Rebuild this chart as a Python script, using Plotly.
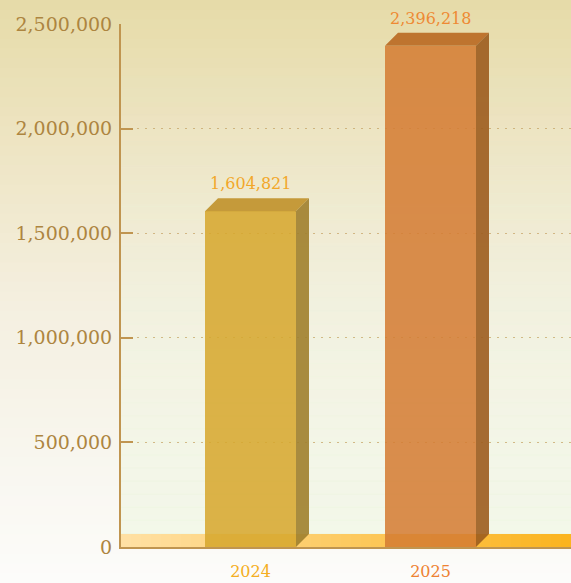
import plotly.graph_objects as go

# ---- data ----
years = ["2024", "2025"]
values = [1604821, 2396218]
ytick_vals = [0, 500000, 1000000, 1500000, 2000000, 2500000]
ytick_text = ["0", "500,000", "1,000,000", "1,500,000", "2,000,000", "2,500,000"]
value_labels = ["1,604,821", "2,396,218"]

# ---- style ----
W, H = 571, 583
ML, MR, MT, MB = 121, 0, 24, 36
PW, PH = W - ML - MR, H - MT - MB
YMAX = 2500000
PX_PER_CAT = 180.0
x_lo = -(250.5 - ML) / PX_PER_CAT
x_hi = x_lo + PW / PX_PER_CAT
bar_w = 91 / PX_PER_CAT
DEPTH_PX = 13
dx = DEPTH_PX / PX_PER_CAT
dy = DEPTH_PX * YMAX / PH

front_cols = ["rgba(214,166,44,0.86)", "rgba(212,124,50,0.86)"]
top_cols = ["rgba(194,150,50,0.95)", "rgba(188,110,40,0.95)"]
side_cols = ["rgba(160,128,44,0.9)", "rgba(156,92,30,0.9)"]
label_cols = ["#F2A72A", "#EE8A34"]
xlab_cols = ["#F4AE22", "#EE8232"]
axis_col = "#C09550"
tick_font_col = "#AD8540"

fig = go.Figure()

xs = list(range(len(years)))
fig.add_trace(go.Bar(x=xs, y=values, width=bar_w, marker=dict(color=front_cols, line=dict(width=0)),
                     hoverinfo="skip", showlegend=False))

for i, v in enumerate(values):
    xl, xr = xs[i] - bar_w / 2, xs[i] + bar_w / 2
    fig.add_trace(go.Scatter(x=[xl, xl + dx, xr + dx, xr, xl], y=[v, v + dy, v + dy, v, v],
                             fill="toself", fillcolor=top_cols[i], mode="lines", line=dict(width=0),
                             hoverinfo="skip", showlegend=False))
    fig.add_trace(go.Scatter(x=[xr, xr + dx, xr + dx, xr, xr], y=[v, v + dy, dy, 0, v],
                             fill="toself", fillcolor=side_cols[i], mode="lines", line=dict(width=0),
                             hoverinfo="skip", showlegend=False))

def lerp(a, b, t):
    return tuple(round(a[k] + (b[k] - a[k]) * t) for k in range(3))

shapes = []
# page background gradient (pixel rows -> paper coords)
stops = [(0, (230, 219, 168)), (150, (238, 229, 196)), (300, (244, 239, 223)),
         (450, (248, 246, 238)), (583, (252, 252, 250))]
N = 60
for i in range(N):
    py0, py1 = i * H / N, (i + 1) * H / N + 1
    pm = (py0 + py1) / 2
    for j in range(len(stops) - 1):
        if stops[j][0] <= pm <= stops[j + 1][0]:
            t = (pm - stops[j][0]) / (stops[j + 1][0] - stops[j][0])
            c = lerp(stops[j][1], stops[j + 1][1], t)
            break
    y0 = (H - MB - py1) / PH
    y1 = (H - MB - py0) / PH
    shapes.append(dict(type="rect", xref="paper", yref="paper", x0=-ML / PW - 0.01, x1=1.01,
                       y0=y0, y1=y1, fillcolor="rgb(%d,%d,%d)" % c, line=dict(width=0), layer="below"))
# plot area green tint
M = 40
for i in range(M):
    t = (i + 0.5) / M
    a = 0.55 * t ** 1.3
    shapes.append(dict(type="rect", xref="paper", yref="paper", x0=0, x1=1,
                       y0=1 - (i + 1) / M, y1=1 - i / M + 0.002,
                       fillcolor="rgba(236,245,222,%.3f)" % a, line=dict(width=0), layer="below"))
# floor band gradient
K = 45
for i in range(K):
    t = (i + 0.5) / K
    c = lerp((255, 224, 164), (251, 180, 30), t)
    shapes.append(dict(type="rect", xref="paper", yref="y", x0=i / K, x1=(i + 1) / K + 0.002,
                       y0=0, y1=dy, fillcolor="rgb(%d,%d,%d)" % c, line=dict(width=0), layer="below"))

annotations = []
for i, v in enumerate(values):
    annotations.append(dict(x=xs[i], y=v + dy, text=value_labels[i], showarrow=False,
                            yanchor="bottom", yshift=3,
                            font=dict(family="DejaVu Serif", size=16, color=label_cols[i])))

fig.update_layout(
    width=W, height=H,
    margin=dict(l=ML, r=MR, t=MT, b=MB, pad=0, autoexpand=False),
    paper_bgcolor="rgb(250,249,244)",
    plot_bgcolor="rgba(0,0,0,0)",
    shapes=shapes,
    annotations=annotations,
    bargap=0,
    xaxis=dict(range=[x_lo, x_hi], tickvals=xs, automargin=False,
               ticktext=["<span style='color:%s'>%s</span>" % (xlab_cols[i], y) for i, y in enumerate(years)],
               showgrid=False, zeroline=False, showline=True, linecolor=axis_col, linewidth=2,
               ticks="", ticklabelstandoff=9,
               tickfont=dict(family="DejaVu Serif", size=16, color=xlab_cols[0])),
    yaxis=dict(range=[0, YMAX], tickvals=ytick_vals, ticktext=ytick_text, automargin=False,
               showgrid=True, gridcolor="rgba(196,160,96,0.7)", gridwidth=1, griddash="2px,6px",
               zeroline=False, showline=True, linecolor=axis_col, linewidth=2,
               ticks="inside", ticklen=12, tickwidth=2, tickcolor=axis_col,
               ticklabelstandoff=3,
               tickfont=dict(family="DejaVu Serif", size=19, color=tick_font_col)),
)

fig.write_html("out.html", config={"displayModeBar": False},
               post_script="document.body.style.margin='0';document.body.style.overflow='hidden';")
